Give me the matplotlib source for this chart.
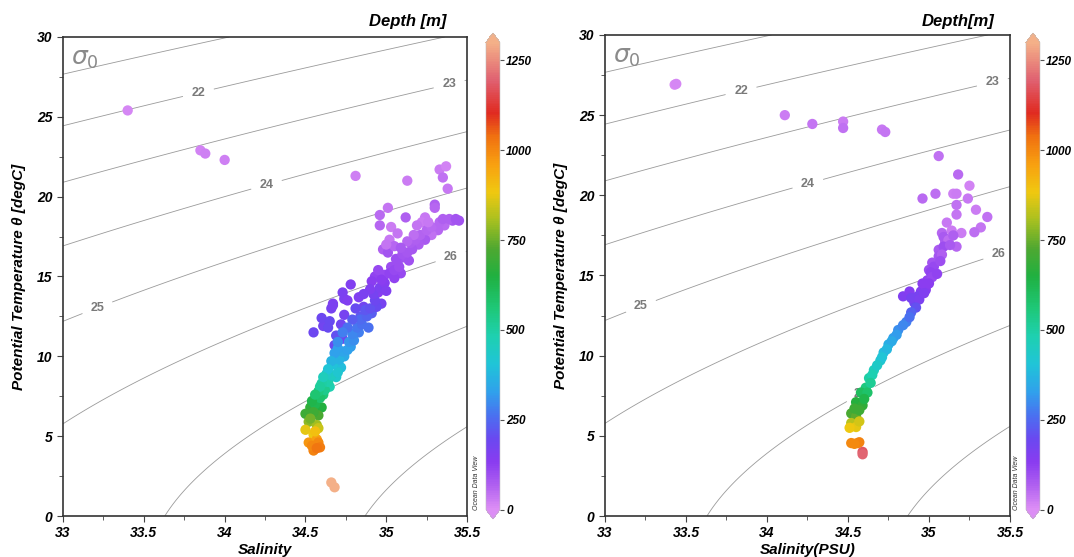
import numpy as np
import matplotlib
matplotlib.use("Agg")
import matplotlib.pyplot as plt
from matplotlib.colors import LinearSegmentedColormap, Normalize
from matplotlib.font_manager import FontProperties

# ---- data: salinity, potential temperature, depth ----
sal_left = [33.40, 33.85, 33.88, 34.00, 34.81, 35.13, 35.33, 35.37, 35.35, 35.38,
            35.30, 35.30, 35.01, 34.96, 34.96, 35.12, 35.03, 35.07, 35.02, 35.24,
            35.22, 35.45, 35.41, 35.36, 35.32, 35.28, 35.24, 35.20, 35.16, 35.11,
            35.07, 35.03, 34.99, 34.98, 35.01, 35.14, 35.09, 34.93, 34.91, 35.05,
            34.78, 34.73, 34.67, 34.66, 34.74, 34.83, 34.86, 34.95, 34.97, 34.91,
            34.55, 34.61, 34.68, 34.73, 34.74, 34.72, 34.67, 34.76, 34.84, 34.89,
            34.94, 34.83, 34.78, 34.74, 34.72, 34.69, 34.65, 34.61, 34.57, 34.60,
            34.53, 34.50, 34.58, 34.52, 34.57, 34.50, 34.55, 34.58, 34.52, 34.57,
            34.55, 34.58, 34.66, 34.68,
            34.56, 34.59, 34.62, 34.64, 34.66, 34.70, 34.67, 34.71, 34.73, 34.76,
            34.77, 34.80, 34.79, 34.82, 34.85, 34.84, 34.88, 34.87, 34.90, 34.93,
            34.92, 34.96, 34.99, 35.00, 35.02, 35.05, 35.08, 35.06, 35.10, 35.13,
            35.15, 35.18, 35.21, 35.25, 35.28, 35.33, 35.39, 34.63, 34.60, 34.58,
            34.54, 34.55, 34.53, 34.56, 34.54, 34.59, 34.57, 34.70, 34.69, 34.64,
            34.60, 34.65,
            35.05, 35.00, 35.19, 35.26, 35.35, 35.43, 35.17, 35.13, 35.09, 34.95,
            34.97, 34.90, 34.86, 34.81, 34.79, 34.76, 34.73, 34.70, 34.68, 34.66,
            34.64, 34.61, 34.59, 34.56]
temp_left = [25.4, 22.9, 22.7, 22.3, 21.3, 21.0, 21.7, 21.9, 21.2, 20.5,
             19.5, 19.3, 19.3, 18.85, 18.2, 18.7, 18.1, 17.7, 17.3, 18.7,
             18.4, 18.5, 18.5, 18.2, 17.9, 17.6, 17.3, 17.0, 16.7, 16.2,
             15.9, 15.6, 15.1, 16.7, 16.5, 16.0, 15.2, 15.0, 14.7, 14.9,
             14.5, 14.0, 13.3, 13.0, 13.6, 13.7, 13.1, 14.0, 13.3, 12.7,
             11.5, 11.9, 10.7, 11.1, 12.6, 12.0, 13.2, 13.5, 12.5, 11.8,
             13.1, 11.5, 10.6, 10.0, 9.3, 8.7, 8.1, 7.6, 7.3, 6.8,
             6.8, 6.4, 6.3, 5.9, 5.7, 5.4, 5.1, 5.5, 4.6, 4.8,
             4.1, 4.6, 2.1, 1.8,
             7.0, 7.4, 7.9, 8.4, 8.8, 9.0, 9.5, 9.8, 10.3, 10.4,
             10.9, 11.0, 11.4, 11.8, 12.0, 12.3, 12.5, 12.9, 13.0, 13.5,
             13.9, 14.3, 14.6, 14.1, 15.2, 15.4, 15.6, 16.1, 16.4, 16.5,
             17.1, 17.3, 17.6, 17.9, 18.1, 18.4, 18.6, 8.9, 8.3, 7.8,
             7.2, 6.5, 6.1, 5.3, 4.4, 4.3, 4.25, 10.5, 11.3, 11.8,
             12.4, 12.2,
             16.9, 17.0, 18.2, 18.4, 18.6, 18.6, 17.6, 17.2, 16.8, 15.4,
             14.8, 14.2, 13.9, 13.0, 12.3, 11.8, 11.5, 10.9, 10.2, 9.7,
             9.2, 8.7, 8.1, 7.6]
depth_left = [15, 20, 22, 25, 25, 30, 30, 20, 45, 35,
              70, 60, 40, 55, 60, 70, 30, 40, 35, 35,
              30, 90, 85, 55, 60, 45, 80, 75, 85, 90,
              95, 100, 110, 70, 90, 95, 110, 120, 130, 120,
              150, 160, 150, 170, 160, 150, 180, 140, 170, 230,
              190, 180, 200, 190, 170, 180, 160, 150, 220, 260,
              200, 280, 320, 350, 390, 430, 480, 560, 600, 650,
              680, 700, 720, 780, 800, 870, 880, 840, 980, 960,
              1010, 1000, 1330, 1340,
              620, 580, 530, 490, 450, 420, 400, 370, 340, 330,
              310, 300, 290, 270, 260, 250, 240, 220, 210, 190,
              170, 160, 140, 150, 120, 110, 100, 100, 90, 85,
              75, 70, 65, 60, 55, 60, 70, 440, 500, 550,
              630, 700, 760, 900, 1000, 1020, 1030, 330, 210, 200,
              190, 200,
              60, 40, 40, 35, 70, 90, 50, 60, 80, 110,
              130, 150, 160, 200, 230, 260, 280, 300, 330, 370,
              410, 460, 510, 570]

sal_right = [33.43, 33.44, 34.11, 34.28, 34.47, 34.47, 34.71, 34.73, 35.06, 35.18,
             34.96, 35.04, 35.15, 35.17, 35.25, 35.24, 35.17, 35.29, 35.36, 35.32,
             35.28, 35.17, 35.11, 35.14, 35.20, 35.08, 35.10, 35.17, 35.06, 35.02,
             35.00, 35.09, 35.12, 35.09, 35.06, 35.03, 35.01, 34.99, 34.98, 34.95,
             34.93, 34.91, 34.84, 34.88, 34.89, 34.94, 34.98, 35.02, 35.08, 34.92,
             34.89, 34.86, 34.81, 34.78, 34.75, 34.72, 34.70, 34.66, 34.63, 34.61,
             34.58, 34.62, 34.55, 34.59, 34.52, 34.55, 34.52, 34.55, 34.51, 34.57,
             34.52, 34.57, 34.59, 34.59,
             34.88, 34.84, 34.80, 34.77, 34.74, 34.71, 34.68, 34.65, 34.64, 34.60,
             34.57, 34.54, 34.56, 34.54, 34.96, 34.97, 35.00, 35.05, 35.07, 35.13,
             35.15]
temp_right = [26.9, 26.95, 25.0, 24.45, 24.6, 24.2, 24.1, 23.95, 22.45, 21.3,
              19.8, 20.1, 20.1, 20.1, 20.6, 19.8, 19.4, 19.1, 18.65, 18.0,
              17.7, 18.8, 18.3, 17.8, 17.65, 17.65, 17.1, 16.8, 16.6, 15.8,
              15.35, 17.4, 17.2, 16.8, 16.2, 15.55, 15.2, 14.7, 14.3, 14.0,
              13.7, 13.3, 13.7, 14.0, 13.6, 13.5, 14.1, 14.9, 16.3, 13.0,
              12.7, 12.1, 11.6, 11.1, 10.7, 10.2, 9.7, 9.1, 8.6, 8.0,
              7.7, 7.7, 7.1, 6.9, 6.4, 6.2, 5.8, 5.55, 5.5, 5.9,
              4.55, 4.6, 4.0, 3.85,
              12.4, 11.9, 11.3, 10.9, 10.4, 9.9, 9.4, 8.8, 8.3, 7.3,
              6.6, 6.7, 4.55, 4.5, 14.5, 13.9, 14.5, 15.1, 15.9, 16.9,
              17.5]
depth_right = [10, 12, 30, 40, 30, 45, 35, 40, 45, 55,
               55, 50, 25, 30, 20, 35, 45, 30, 45, 40,
               50, 40, 35, 30, 30, 60, 70, 60, 80, 90,
               100, 80, 50, 100, 90, 110, 120, 120, 140, 150,
               170, 190, 150, 140, 170, 160, 140, 110, 70, 210,
               240, 280, 300, 330, 360, 390, 420, 460, 500, 550,
               600, 580, 660, 680, 720, 740, 820, 870, 880, 850,
               1000, 1010, 1180, 1200,
               260, 290, 320, 350, 380, 410, 440, 480, 520, 630,
               700, 700, 1010, 1000, 130, 150, 130, 120, 100, 80,
               70]

sigma_levels = [21, 22, 23, 24, 25, 26, 27, 28]
depth_ticks = [0, 250, 500, 750, 1000, 1250]


def sigma0(S, T):
    # UNESCO 1981 density at the surface, minus 1000
    rw = (999.842594 + 6.793952e-2 * T - 9.095290e-3 * T**2 + 1.001685e-4 * T**3
          - 1.120083e-6 * T**4 + 6.536332e-9 * T**5)
    A = 8.24493e-1 - 4.0899e-3 * T + 7.6438e-5 * T**2 - 8.2467e-7 * T**3 + 5.3875e-9 * T**4
    B = -5.72466e-3 + 1.0227e-4 * T - 1.6546e-6 * T**2
    C = 4.8314e-4
    return rw + A * S + B * S**1.5 + C * S**2 - 1000.0


odv = LinearSegmentedColormap.from_list("odv", [
    (0.00, "#dc8ef5"), (0.05, "#b060f0"), (0.10, "#8a3cf0"), (0.15, "#6a48f0"),
    (0.20, "#4a70f0"), (0.25, "#30a0ec"), (0.31, "#20c4d8"), (0.37, "#1ed0b0"),
    (0.43, "#1ec878"), (0.50, "#20b040"), (0.56, "#50a830"), (0.62, "#a8c020"),
    (0.68, "#f0c810"), (0.74, "#f8a010"), (0.80, "#f07010"), (0.85, "#e02a20"),
    (0.92, "#e06070"), (1.00, "#f4b088")])
odv.set_under("#dc8ef5")
odv.set_over("#f4b088")
norm = Normalize(0, 1300)

FONT = "Liberation Sans"
tfont = dict(family=FONT, weight="bold", style="italic")

fig = plt.figure(figsize=(10.74, 5.57), dpi=100)

panels = [
    dict(ax=[0.0587, 0.0736, 0.3762, 0.8600], cax=[0.4525, 0.0682, 0.0130, 0.8725],
         S=sal_left, T=temp_left, D=depth_left, xlabel="Salinity", title="Depth [m]",
         title_x=0.416, odv_x=0.4435,
         labels=[(33.84, 26.4), (35.39, 27.0), (34.26, 20.7), (33.21, 13.1), (35.40, 16.2), (34.60, 7.6)]),
    dict(ax=[0.5633, 0.0736, 0.3771, 0.8636], cax=[0.9553, 0.0682, 0.0130, 0.8725],
         S=sal_right, T=temp_right, D=depth_right, xlabel="Salinity(PSU)", title="Depth[m]",
         title_x=0.926, odv_x=0.9465,
         labels=[(33.84, 26.5), (35.39, 27.1), (34.25, 20.8), (33.21, 13.4), (35.43, 16.3), (34.58, 7.6)]),
]

Sg, Tg = np.meshgrid(np.linspace(33, 35.5, 300), np.linspace(0, 30, 300))
SIG = sigma0(Sg, Tg)

for p in panels:
    ax = fig.add_axes(p["ax"])
    cs = ax.contour(Sg, Tg, SIG, levels=sigma_levels, colors="#9a9a9a",
                    linewidths=0.6, zorder=1)
    lbl = ax.clabel(cs, inline=True, fontsize=9, fmt="%d", colors="#7a7a7a",
                    manual=p["labels"], inline_spacing=8)
    for t in lbl:
        t.set_rotation(0)
        t.set_fontweight("bold")
        t.set_family(FONT)
    sc = ax.scatter(p["S"], p["T"], c=p["D"], cmap=odv, norm=norm, s=55,
                    edgecolors="none", zorder=3)
    ax.set_xlim(33, 35.5)
    ax.set_ylim(0, 30)
    ax.set_xticks([33, 33.5, 34, 34.5, 35, 35.5])
    ax.set_xticklabels(["33", "33.5", "34", "34.5", "35", "35.5"])
    ax.set_xticks([33.25, 33.75, 34.25, 34.75, 35.25], minor=True)
    ax.set_yticks([0, 5, 10, 15, 20, 25, 30])
    ax.set_yticks([2.5, 7.5, 12.5, 17.5, 22.5, 27.5], minor=True)
    ax.tick_params(which="both", direction="out", color="#444444")
    ax.tick_params(which="major", length=4)
    ax.tick_params(which="minor", length=3)
    for t in ax.get_xticklabels() + ax.get_yticklabels():
        t.set_fontproperties(FontProperties(size=10, **tfont))
    for sp in ax.spines.values():
        sp.set_color("#333333")
        sp.set_linewidth(1.2)
    ax.set_xlabel(p["xlabel"], fontsize=11, labelpad=2, **tfont)
    ax.set_ylabel("Potential Temperature \u03b8 [degC]", fontsize=11, labelpad=8, **tfont)
    ax.text(0.02, 0.955, r"$\sigma_{\mathit{0}}$", transform=ax.transAxes, fontsize=18,
            color="#8a8a8a", va="center", ha="left")

    cax = fig.add_axes(p["cax"])
    cb = fig.colorbar(sc, cax=cax, extend="both", extendfrac=0.02, ticks=depth_ticks)
    cb.outline.set_linewidth(0.4)
    cb.outline.set_edgecolor("#bbbbbb")
    cax.tick_params(length=3, width=0.8, color="#555555", pad=1.5)
    for t in cax.get_yticklabels():
        t.set_fontproperties(FontProperties(size=8.5, **tfont))

    fig.text(p["title_x"], 0.962, p["title"], ha="right", va="center", fontsize=12, **tfont)
    fig.text(p["odv_x"], 0.085, "Ocean Data View", rotation=90, ha="center", va="bottom",
             fontsize=5, style="italic", family=FONT, color="#333333")

fig.savefig("out.png", dpi=100)
